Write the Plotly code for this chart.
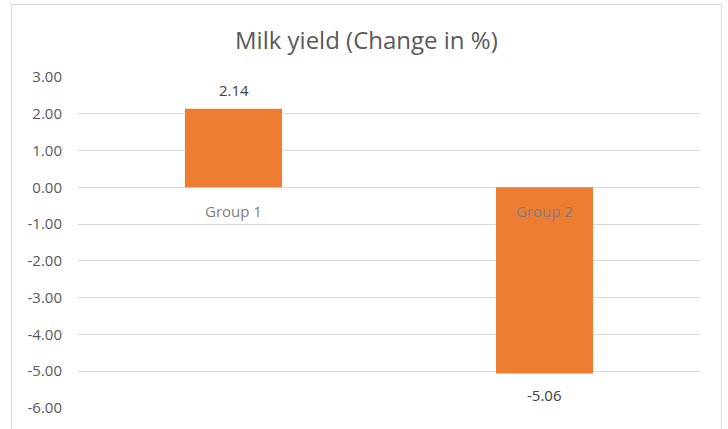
import plotly.graph_objects as go

categories = ["Group 1", "Group 2"]
values = [2.14, -5.06]
y_ticks = [3, 2, 1, 0, -1, -2, -3, -4, -5, -6]
title_text = "Milk yield (Change in %)"

W, H = 728, 429
L, R, T, B = 78, 28, 77, 21
pw, ph = W - L - R, H - T - B

def px_to_paper_x(px):
    return (px - L) / pw

def px_to_paper_y(py):
    return (H - B - py) / ph

fig = go.Figure()
fig.add_trace(go.Bar(
    x=categories, y=values,
    marker=dict(color="#ED7D31", line=dict(width=0)),
    cliponaxis=False,
))

annotations = []
for c, v in zip(categories, values):
    # category label sitting just under the zero line
    annotations.append(dict(
        x=c, y=0, xref="x", yref="y", text=c, showarrow=False,
        yanchor="middle", yshift=-24,
        font=dict(family="Open Sans", size=15, color="#7F7F7F"),
    ))
    # data label outside bar end
    annotations.append(dict(
        x=c, y=v, xref="x", yref="y", text=f"{v:.2f}", showarrow=False,
        yanchor="middle", yshift=19 if v >= 0 else -22,
        font=dict(family="Open Sans", size=15, color="#404040"),
    ))
annotations.append(dict(
    x=px_to_paper_x(366), y=px_to_paper_y(40), xref="paper", yref="paper",
    text=title_text, showarrow=False, xanchor="center", yanchor="middle",
    font=dict(family="Open Sans", size=24, color="#595959"),
))

fig.update_layout(
    width=W, height=H,
    margin=dict(l=L, r=R, t=T, b=B),
    paper_bgcolor="white", plot_bgcolor="white",
    bargap=0.688,
    showlegend=False,
    annotations=annotations,
    shapes=[dict(
        type="rect", xref="paper", yref="paper",
        x0=px_to_paper_x(11.5), x1=px_to_paper_x(721.5),
        y0=px_to_paper_y(470), y1=px_to_paper_y(4.5),
        line=dict(color="#D9D9D9", width=1), fillcolor="rgba(0,0,0,0)",
        layer="below",
    )],
    xaxis=dict(showticklabels=False, showgrid=False, zeroline=False, showline=False),
    yaxis=dict(
        range=[-6, 3], tickvals=y_ticks, ticktext=[f"{t:.2f}" for t in y_ticks],
        showgrid=True, gridcolor="#D9D9D9", gridwidth=1,
        zeroline=True, zerolinecolor="#D9D9D9", zerolinewidth=1,
        showline=False, ticks="", ticklabelstandoff=15,
        tickfont=dict(family="Open Sans", size=15, color="#595959"),
    ),
)

fig.write_html("out.html")
